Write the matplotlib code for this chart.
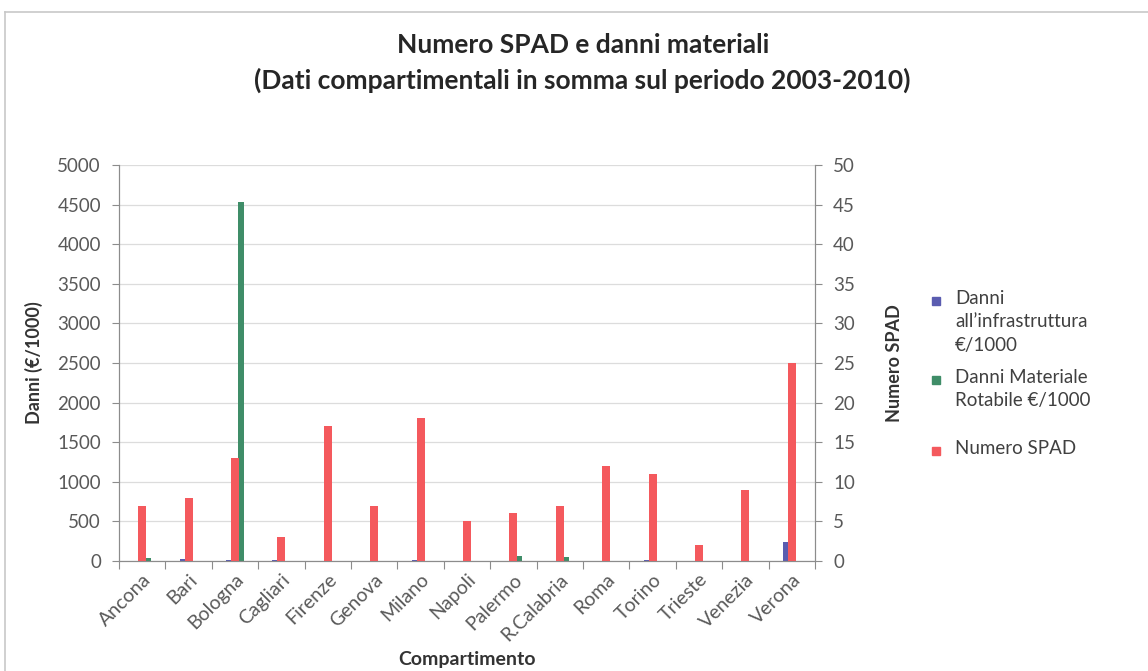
'''
Numero SPAD e danni materiali per compartimento (2003-2010).
Bars for damages on the left axis, SPAD count on the right one.
'''

import numpy as np
import matplotlib.pyplot as plt
from matplotlib.patches import Rectangle
from matplotlib.lines import Line2D

plt.rcParams['font.family'] = ['Lato', 'DejaVu Sans']

# -- data -- #
compartimenti = ['Ancona', 'Bari', 'Bologna', 'Cagliari', 'Firenze', 'Genova', 'Milano',
                 'Napoli', 'Palermo', 'R.Calabria', 'Roma', 'Torino', 'Trieste',
                 'Venezia', 'Verona']
danni_infra = [5, 20, 15, 10, 5, 0, 10, 5, 5, 5, 5, 15, 0, 0, 245]          # €/1000
danni_rotabile = [40, 0, 4530, 0, 0, 0, 5, 0, 60, 55, 0, 5, 0, 0, 0]       # €/1000
numero_spad = [7, 8, 13, 3, 17, 7, 18, 5, 6, 7, 12, 11, 2, 9, 25]

serie = ["Danni\nall\u2019infrastruttura\n\u20ac/1000",
         "Danni Materiale\nRotabile \u20ac/1000",
         "Numero SPAD"]
colori = ['#5a5cb0', '#3f8d68', '#f4595d']

W, H = 1148, 671
fig = plt.figure(figsize=(W/100, H/100), dpi=100)
ax = fig.add_axes([119/W, 1-561/H, (815-119)/W, (561-165)/H])
ax2 = ax.twinx()

x = np.arange(len(compartimenti))
ax.bar(x - 0.13, danni_infra, width=0.13, color=colori[0], zorder=2)
ax.bar(x + 0.13, danni_rotabile, width=0.13, color=colori[1], zorder=2)
ax2.bar(x, numero_spad, width=0.17, color=colori[2], zorder=3)

ax.set_xlim(-0.5, len(compartimenti)-0.5)
ax.set_ylim(0, 5000)
ax.set_yticks(np.arange(0, 5001, 500))
ax2.set_ylim(0, 50)
ax2.set_yticks(np.arange(0, 51, 5))

ax.grid(axis='y', color='#dcdcdc', lw=0.9, zorder=0)
ax.set_axisbelow(True)

grigio = '#8c8c8c'
for a in (ax, ax2):
    a.spines['top'].set_visible(False)
    for s in ('left', 'right', 'bottom'):
        a.spines[s].set_color(grigio)
    a.tick_params(colors='#595959', labelsize=13.5, length=5, color=grigio, pad=8)

# Excel style: ticks between categories, labels at centres
ax.set_xticks(np.arange(-0.5, len(compartimenti)), minor=False)
ax.set_xticklabels([])
ax.set_xticks(x, minor=True)
ax.set_xticklabels(compartimenti, minor=True, rotation=45, ha='right',
                   rotation_mode='anchor', fontsize=14, color='#595959')
ax.tick_params(axis='x', which='minor', length=0, pad=7)
ax.tick_params(axis='x', which='major', length=6)

ax.set_ylabel('Danni (\u20ac/1000)', fontsize=13, fontweight='bold', color='#333333', labelpad=10)
ax2.set_ylabel('Numero SPAD', fontsize=13, fontweight='bold', color='#333333', labelpad=22)
fig.text(467/W, 1-660/H, 'Compartimento', ha='center', va='center',
         fontsize=14, fontweight='bold', color='#333333')

fig.text(583/W, 1-45/H, 'Numero SPAD e danni materiali', ha='center', va='center',
         fontsize=19, fontweight='bold', color='#262626')
fig.text(582/W, 1-80/H, '(Dati compartimentali in somma sul periodo 2003-2010)', ha='center',
         va='center', fontsize=19, fontweight='bold', color='#262626')

# legend drawn by hand so the squares line up with the first text line
leg_y = [301, 380, 451]
for lab, col, yy in zip(serie, colori, leg_y):
    fig.add_artist(Rectangle((932/W, 1-(yy+4)/H), 8/W, 8/H, color=col,
                             transform=fig.transFigure))
    fig.text(955/W, 1-(yy-11)/H, lab, ha='left', va='top', fontsize=13.5,
             color='#404040', linespacing=1.45)

# page border of the original chart object
fig.add_artist(Line2D([5/W, 1], [1-12/H, 1-12/H], color='#c8c8c8', lw=1.2))
fig.add_artist(Line2D([5/W, 5/W], [0, 1-12/H], color='#c8c8c8', lw=1.2))

plt.savefig('out.png', dpi=100)
plt.close()
